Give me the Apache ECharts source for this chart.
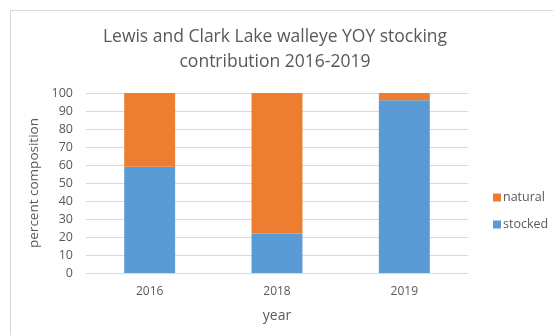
<!DOCTYPE html>
<html>
<head>
<meta charset="utf-8">
<script src="https://cdn.jsdelivr.net/npm/echarts@6/dist/echarts.min.js"></script>
<style>
html,body{margin:0;padding:0;background:#fff;}
#chart{width:553px;height:335px;}
</style>
</head>
<body>
<div id="chart"></div>
<script>
// Year-of-year walleye composition by origin
const years = ['2016', '2018', '2019'];
const stocked = [59, 22, 96];
const natural = [41, 78, 4];
const yTicks = [0, 100, 10]; // min, max, interval

const textColor = '#595959';
const font = "'Open Sans', 'Liberation Sans', sans-serif";

const chart = echarts.init(document.getElementById('chart'));
chart.setOption({
  animation: false,
  backgroundColor: '#fff',
  graphic: [{
    type: 'rect',
    shape: { x: 10.5, y: 10.5, width: 560, height: 340 },
    style: { fill: 'none', stroke: '#d9d9d9', lineWidth: 1 },
    silent: true
  }],
  title: {
    text: 'Lewis and Clark Lake walleye YOY stocking\ncontribution 2016-2019',
    left: 270,
    textAlign: 'center',
    top: 20,
    textStyle: { fontFamily: font, fontSize: 17.5, fontWeight: 'normal', color: textColor, lineHeight: 25 }
  },
  legend: {
    orient: 'vertical',
    left: 488,
    top: 186,
    itemWidth: 8,
    itemHeight: 8,
    itemGap: 14,
    icon: 'rect',
    data: ['natural', 'stocked'],
    textStyle: { fontFamily: font, fontSize: 12.5, color: textColor, padding: [0, 0, 0, -3] }
  },
  grid: { left: 86, right: 85, top: 93, bottom: 62, containLabel: false },
  xAxis: {
    type: 'category',
    data: years,
    name: 'year',
    nameLocation: 'middle',
    nameGap: 36,
    nameTextStyle: { fontFamily: font, fontSize: 14, color: textColor },
    axisLine: { lineStyle: { color: '#d9d9d9' } },
    axisTick: { show: false },
    axisLabel: { fontFamily: font, fontSize: 12, color: textColor, margin: 13 }
  },
  yAxis: {
    type: 'value',
    min: yTicks[0],
    max: yTicks[1],
    interval: yTicks[2],
    name: 'percent composition',
    nameLocation: 'middle',
    nameGap: 35,
    nameTextStyle: { fontFamily: font, fontSize: 13.5, color: textColor },
    axisLine: { show: false },
    axisTick: { show: false },
    axisLabel: { fontFamily: font, fontSize: 12.5, color: textColor, margin: 13 },
    splitLine: { lineStyle: { color: '#d9d9d9' } }
  },
  series: [
    {
      name: 'stocked', type: 'bar', stack: 'total', data: stocked,
      barWidth: '40%', itemStyle: { color: '#5B9BD5' }
    },
    {
      name: 'natural', type: 'bar', stack: 'total', data: natural,
      barWidth: '40%', itemStyle: { color: '#ED7D31' }
    }
  ]
});
</script>
</body>
</html>
